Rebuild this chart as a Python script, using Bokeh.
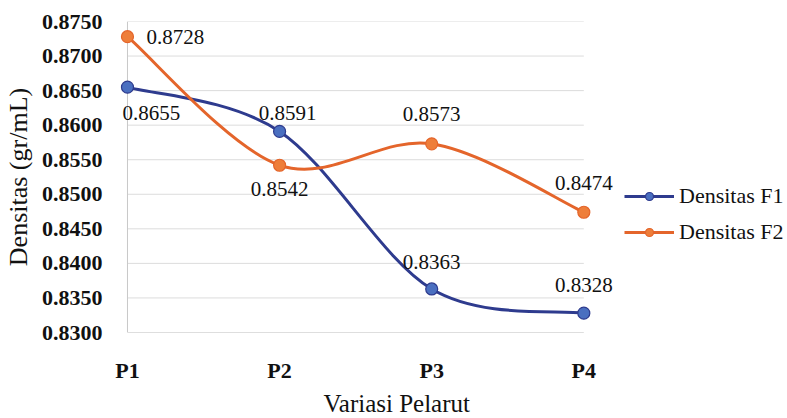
from bokeh.plotting import figure
from bokeh.models import (FixedTicker, Range1d, Legend, LegendItem, ColumnDataSource, LabelSet, Title)
from bokeh.embed import file_html
from bokeh.resources import INLINE

# Data
categories = ["P1", "P2", "P3", "P4"]
densitas_f1 = [0.8655, 0.8591, 0.8363, 0.8328]
densitas_f2 = [0.8728, 0.8542, 0.8573, 0.8474]
y_ticks = [0.8300, 0.8350, 0.8400, 0.8450, 0.8500, 0.8550, 0.8600, 0.8650, 0.8700, 0.8750]

# Label placement (pixel offsets from each point, positive y = up)
f1_label_dx = [24, 8, 0, 0]
f1_label_dy = [-26, 18, 27, 28]
f2_label_dx = [48, 0, 0, 0]
f2_label_dy = [0, -24, 30, 29]

FONT = "Liberation Serif"
BLUE_LINE, BLUE_FILL = "#2E3B8E", "#4A6FC0"
ORANGE_LINE, ORANGE_FILL = "#E4652B", "#EE7E3A"

xs = list(range(len(categories)))


def smooth_segments(x, y):
    """Cubic Bezier pieces through the points (Catmull-Rom style tangents)."""
    n = len(x)
    segs = dict(x0=[], y0=[], x1=[], y1=[], cx0=[], cy0=[], cx1=[], cy1=[])
    for i in range(n - 1):
        a = max(i - 1, 0)
        d = min(i + 2, n - 1)
        segs["x0"].append(x[i]); segs["y0"].append(y[i])
        segs["x1"].append(x[i + 1]); segs["y1"].append(y[i + 1])
        segs["cx0"].append(x[i] + (x[i + 1] - x[a]) / 6)
        segs["cy0"].append(y[i] + (y[i + 1] - y[a]) / 6)
        segs["cx1"].append(x[i + 1] - (x[d] - x[i]) / 6)
        segs["cy1"].append(y[i + 1] - (y[d] - y[i]) / 6)
    return segs


# The frame runs to the right edge so the legend and end labels sit inside it;
# gridlines are drawn only across P1..P4.
p = figure(width=787, height=418, output_backend="svg", toolbar_location=None,
           x_range=Range1d(-0.059, 4.339), y_range=Range1d(y_ticks[0], y_ticks[-1]),
           min_border_left=117, min_border_right=0, min_border_top=21,
           min_border_bottom=86)
p.outline_line_color = None
p.background_fill_color = "white"
p.border_fill_color = "white"
p.xgrid.visible = False
p.ygrid.visible = False

grid_src = ColumnDataSource(dict(x0=[xs[0]] * (len(y_ticks) - 1), x1=[xs[-1]] * (len(y_ticks) - 1),
                                 y=y_ticks[1:]))
p.segment(x0="x0", y0="y", x1="x1", y1="y", source=grid_src, line_color="#DCDCDC", line_width=1)
p.segment(x0=[xs[0]], y0=[y_ticks[0]], x1=[xs[-1]], y1=[y_ticks[0]], line_color="#BDBDBD", line_width=1)
p.segment(x0=[xs[0]], y0=[y_ticks[0]], x1=[xs[0]], y1=[y_ticks[-1]], line_color="#C8C8C8", line_width=1)

# Axes
p.xaxis.ticker = FixedTicker(ticks=xs)
p.xaxis.major_label_overrides = {i: c for i, c in zip(xs, categories)}
p.yaxis.ticker = FixedTicker(ticks=y_ticks)
p.yaxis.major_label_overrides = {t: f"{t:.4f}" for t in y_ticks}
for ax in (p.xaxis[0], p.yaxis[0]):
    ax.axis_line_color = None
    ax.major_tick_line_color = None
    ax.minor_tick_line_color = None
    ax.major_label_text_font = FONT
    ax.major_label_text_font_style = "bold"
    ax.major_label_text_font_size = "22px"
    ax.major_label_text_color = "#111111"
    ax.axis_label_text_font = FONT
    ax.axis_label_text_font_style = "normal"
    ax.axis_label_text_color = "#111111"
p.xaxis.major_label_standoff = 19
p.yaxis.major_label_standoff = 10
p.yaxis.axis_label = "Densitas (gr/mL)"
p.yaxis.axis_label_text_font_size = "26px"
p.yaxis.axis_label_standoff = 6

# X axis title, centred under the P1..P4 span
p.add_layout(Title(text="Variasi Pelarut", align="left", offset=205, standoff=4,
                   text_font=FONT, text_font_style="normal", text_font_size="25px",
                   text_color="#111111"), "below")

# Series
items = []
for name, vals, lc, fc, dxs, dys in [
    ("Densitas F1", densitas_f1, BLUE_LINE, BLUE_FILL, f1_label_dx, f1_label_dy),
    ("Densitas F2", densitas_f2, ORANGE_LINE, ORANGE_FILL, f2_label_dx, f2_label_dy),
]:
    seg = smooth_segments(xs, vals)
    r_line = p.bezier(source=ColumnDataSource(seg), x0="x0", y0="y0", x1="x1", y1="y1",
                      cx0="cx0", cy0="cy0", cx1="cx1", cy1="cy1",
                      line_color=lc, line_width=3)
    r_pts = p.scatter(xs, vals, size=12, fill_color=fc, line_color=lc, line_width=1.2)
    lab_src = ColumnDataSource(dict(x=xs, y=vals, t=[f"{v:.4f}" for v in vals], dx=dxs, dy=dys))
    p.add_layout(LabelSet(x="x", y="y", text="t", x_offset="dx", y_offset="dy", source=lab_src,
                          text_font=FONT, text_font_size="21px", text_color="#111111",
                          text_align="center", text_baseline="middle"))
    items.append(LegendItem(label=name, renderers=[r_line, r_pts]))

legend = Legend(items=items, location=(506, 87), orientation="vertical",
                glyph_width=50, glyph_height=20, label_height=20, spacing=10,
                label_standoff=5, padding=5, margin=0,
                label_text_font=FONT, label_text_font_size="22px",
                label_text_color="#111111", border_line_color=None,
                background_fill_alpha=0)
p.add_layout(legend)

open("out.html", "w").write(file_html(p, INLINE))
